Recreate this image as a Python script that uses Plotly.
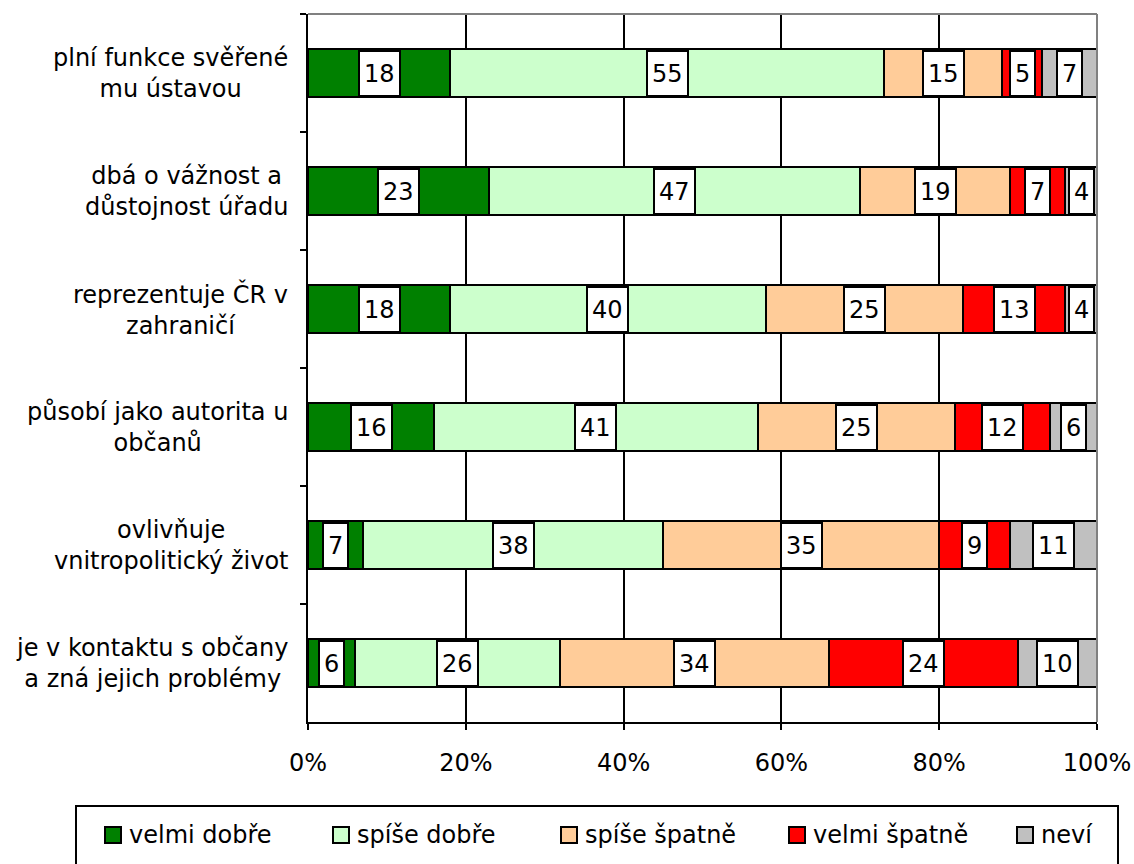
import plotly.graph_objects as go

categories = [
    "plní funkce svěřené<br>mu ústavou",
    "dbá o vážnost a<br>důstojnost úřadu",
    "reprezentuje ČR v<br>zahraničí",
    "působí jako autorita u<br>občanů",
    "ovlivňuje<br>vnitropolitický život",
    "je v kontaktu s občany<br>a zná jejich problémy",
]
series_names = ["velmi dobře", "spíše dobře", "spíše špatně", "velmi špatně", "neví"]
velmi_dobre = [18, 23, 18, 16, 7, 6]
spise_dobre = [55, 47, 40, 41, 38, 26]
spise_spatne = [15, 19, 25, 25, 35, 34]
velmi_spatne = [5, 7, 13, 12, 9, 24]
nevi = [7, 4, 4, 6, 11, 10]
x_tick_values = [0, 20, 40, 60, 80, 100]
x_tick_labels = ["0%", "20%", "40%", "60%", "80%", "100%"]

series_values = [velmi_dobre, spise_dobre, spise_spatne, velmi_spatne, nevi]
colors = ["#008000", "#CCFFCC", "#FFCC99", "#FF0000", "#C0C0C0"]

FONT = "DejaVu Sans"
W, H = 1134, 864
L, R, T, B = 308, 1097, 14, 722
pw, ph = R - L, B - T


def px_x(p):
    return (p - L) / pw


def px_y(p):
    return (B - p) / ph


fig = go.Figure()
for name, vals, col in zip(series_names, series_values, colors):
    fig.add_trace(go.Bar(
        orientation="h", y=categories, x=vals, name=name,
        marker=dict(color=col, line=dict(color="black", width=2)),
        hoverinfo="skip", showlegend=False,
    ))

annotations = []
# data labels
for ci, cat in enumerate(categories):
    cum = 0
    for vals in series_values:
        v = vals[ci]
        annotations.append(dict(
            x=cum + v / 2, y=cat, xref="x", yref="y", text=str(v),
            showarrow=False, bgcolor="white", bordercolor="black",
            borderwidth=2, borderpad=4, height=35,
            font=dict(family=FONT, size=24, color="black"),
        ))
        cum += v
# category labels (centered multi-line)
for cat in categories:
    annotations.append(dict(
        x=px_x(290), y=cat, xref="paper", yref="y", text=cat,
        showarrow=False, xanchor="right", align="center",
        font=dict(family=FONT, size=24, color="black"),
    ))

shapes = [
    # gray top and right borders of plot area
    dict(type="line", xref="paper", yref="paper", x0=0, x1=1, y0=1, y1=1,
         line=dict(color="#808080", width=2), layer="above"),
    dict(type="line", xref="paper", yref="paper", x0=1, x1=1, y0=0, y1=1,
         line=dict(color="#808080", width=2), layer="above"),
    # legend border (bottom runs off the canvas)
    dict(type="rect", xref="paper", yref="paper",
         x0=px_x(76), x1=px_x(1118), y0=px_y(806), y1=px_y(900),
         line=dict(color="black", width=2), fillcolor="rgba(0,0,0,0)"),
]

# legend drawn as key squares + labels
LEG_X0, LEG_STEP, LEG_CY, KEY = 105, 228, 835, 16
for i, (name, col) in enumerate(zip(series_names, colors)):
    kx = LEG_X0 + i * LEG_STEP
    shapes.append(dict(
        type="rect", xref="paper", yref="paper",
        x0=px_x(kx), x1=px_x(kx + KEY),
        y0=px_y(LEG_CY + KEY / 2), y1=px_y(LEG_CY - KEY / 2),
        fillcolor=col, line=dict(color="black", width=2),
    ))
    annotations.append(dict(
        x=px_x(kx + KEY + 6), y=px_y(LEG_CY), xref="paper", yref="paper",
        text=name, showarrow=False, xanchor="left", yanchor="middle",
        font=dict(family=FONT, size=24, color="black"),
    ))

fig.update_layout(
    width=W, height=H,
    margin=dict(l=L, r=W - R, t=T, b=H - B, pad=0, autoexpand=False),
    plot_bgcolor="white", paper_bgcolor="white",
    barmode="stack", bargap=0.6,
    font=dict(family=FONT, size=24, color="black"),
    xaxis=dict(
        range=[0, 100], tickvals=x_tick_values, ticktext=x_tick_labels,
        showgrid=True, gridcolor="black", gridwidth=2,
        showline=True, linecolor="black", linewidth=2,
        ticks="outside", ticklen=6, tickwidth=2, tickcolor="black",
        ticklabelstandoff=12, automargin=False,
        zeroline=False, fixedrange=True,
        tickfont=dict(family=FONT, size=24, color="black"),
    ),
    yaxis=dict(
        autorange="reversed", type="category",
        showticklabels=False, showgrid=False, zeroline=False,
        showline=True, linecolor="black", linewidth=2,
        ticks="outside", ticklen=6, tickwidth=2, tickcolor="black",
        tickson="boundaries", fixedrange=True, automargin=False,
    ),
    showlegend=False,
    annotations=annotations,
    shapes=shapes,
)

fig.write_html(
    "out.html",
    config={"displayModeBar": False},
    post_script="document.body.style.margin='0';document.body.style.overflow='hidden';",
)
